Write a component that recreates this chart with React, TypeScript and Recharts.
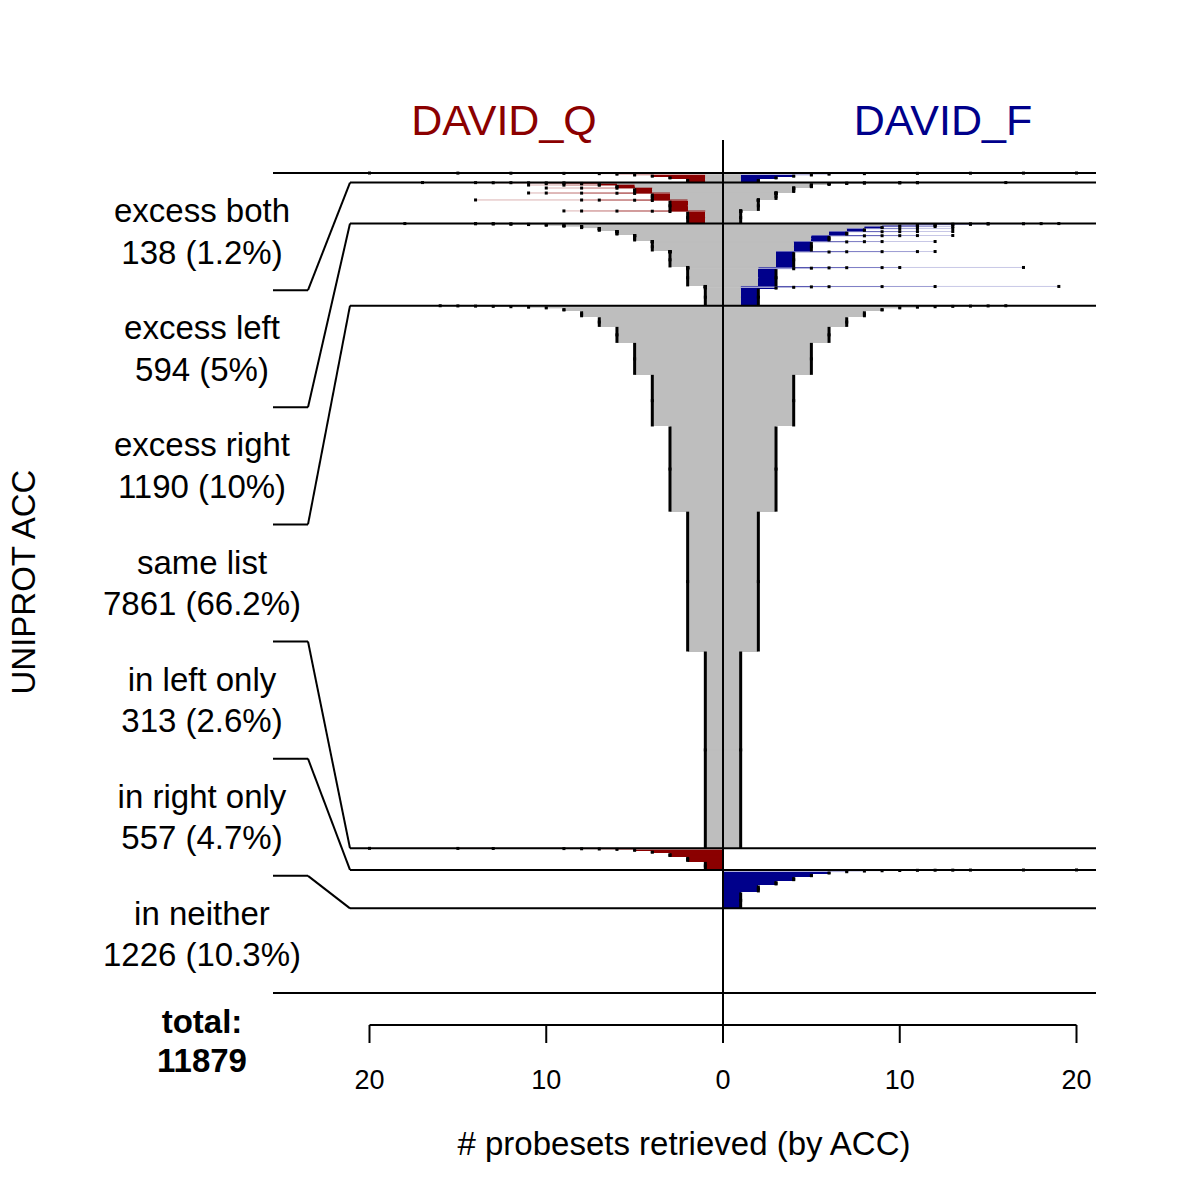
import React from "react";
import { ComposedChart, XAxis, YAxis, ReferenceArea, ReferenceLine, Scatter } from "recharts";

// ---------------- DATA ----------------
const TOTAL = 11879;
const categoryNames = ["excess both", "excess left", "excess right", "same list", "in left only", "in right only", "in neither"];
const categoryCounts = [138, 594, 1190, 7861, 313, 557, 1226];
const leftName = "DAVID_Q";
const rightName = "DAVID_F";
const xTicks = [-20, -10, 0, 10, 20];

// [common, left, right, items]  (top to bottom)
const excessBothBins = [
  [1, 20, 20, 1], [1, 15, 17, 1], [1, 12, 14, 2], [1, 9, 11, 3], [2, 7, 8, 5],
  [1, 6, 6, 10], [1, 5, 5, 14], [1, 4, 4, 20], [1, 3, 3, 30], [1, 2, 2, 52],
];
// [right (= common), left, items]
const excessLeftBins = [
  [16, 17, 1],
  [11, 14, 1], [11, 12, 1],
  [10, 13, 1], [10, 11, 1],
  [8, 10, 1], [8, 9, 3],
  [7, 9, 1], [7, 8, 6],
  [6, 10, 1], [6, 8, 2], [6, 7, 17],
  [5, 11, 1], [5, 9, 1], [5, 7, 3], [5, 6, 38],
  [4, 10, 1], [4, 8, 1], [4, 6, 3], [4, 5, 67],
  [3, 11, 1], [3, 10, 1], [3, 8, 1], [3, 6, 2], [3, 5, 4], [3, 4, 92],
  [2, 14, 1], [2, 8, 1], [2, 7, 1], [2, 5, 3], [2, 4, 5], [2, 3, 148],
  [1, 9, 1], [1, 8, 1], [1, 6, 1], [1, 4, 3], [1, 3, 6], [1, 2, 171],
];
// [left (= common), right, items]
const excessRightBins = [
  [18, 19, 1],
  [14, 18, 1], [14, 15, 1],
  [13, 17, 1], [13, 14, 2],
  [12, 15, 1], [12, 13, 4],
  [11, 14, 1], [11, 12, 6],
  [10, 13, 1], [10, 11, 10],
  [9, 12, 1], [9, 11, 1], [9, 10, 12],
  [8, 13, 1], [8, 12, 1], [8, 11, 1], [8, 9, 26],
  [7, 13, 1], [7, 11, 1], [7, 10, 1], [7, 8, 40],
  [6, 13, 1], [6, 11, 1], [6, 10, 1], [6, 9, 1], [6, 7, 54],
  [5, 13, 1], [5, 11, 1], [5, 10, 1], [5, 9, 1], [5, 8, 2], [5, 6, 81],
  [4, 12, 1], [4, 9, 1], [4, 8, 2], [4, 7, 4], [4, 5, 137],
  [3, 12, 1], [3, 11, 1], [3, 9, 1], [3, 7, 2], [3, 6, 5], [3, 4, 221],
  [2, 17, 1], [2, 10, 1], [2, 9, 1], [2, 7, 2], [2, 6, 3], [2, 5, 6], [2, 4, 10], [2, 3, 251],
  [1, 19, 1], [1, 12, 1], [1, 9, 1], [1, 6, 2], [1, 5, 4], [1, 4, 8], [1, 3, 15], [1, 2, 247],
];
// [probesets on both sides, items]
const sameListBins = [
  [16, 2], [15, 3], [14, 3], [13, 4], [12, 6], [11, 8], [10, 12], [9, 43],
  [8, 87], [7, 139], [6, 232], [5, 463], [4, 748], [3, 1234], [2, 2026], [1, 2851],
];
// [left, items]
const leftOnlyBins = [
  [20, 1], [15, 1], [13, 1], [9, 2], [8, 3], [7, 4], [6, 7], [5, 20], [4, 33], [3, 53], [2, 72], [1, 116],
];
// [right, items]
const rightOnlyBins = [
  [20, 1], [17, 1], [14, 1], [13, 1], [12, 1], [11, 2], [10, 3], [9, 4], [8, 5],
  [7, 14], [6, 24], [5, 48], [4, 58], [3, 62], [2, 101], [1, 231],
];

// ---------------- STYLE / LAYOUT ----------------
const RED = "#8B0000";
const BLUE = "#00008B";
const GRAY = "#BEBEBE";
const FONT = "'Liberation Sans', Arial, Helvetica, sans-serif";
const W = 1200;
const H = 1200;
const PX_LEFT = 273;
const PX_RIGHT = 1096;
const PX_TOP = 140;
const PX_BOTTOM = 1025;
const PX_ZERO = 723;
const PX_PER_UNIT = 17.675;
const PX_Y0 = 173;
const PX_YT = 993;
const ITEM_PX = (PX_YT - PX_Y0) / TOTAL;
const XMIN = (PX_LEFT - PX_ZERO) / PX_PER_UNIT;
const XMAX = (PX_RIGHT - PX_ZERO) / PX_PER_UNIT;
const XBEND = (308 - PX_ZERO) / PX_PER_UNIT;
const YMIN = (PX_TOP - PX_Y0) / ITEM_PX;
const YMAX = (PX_BOTTOM - PX_Y0) / ITEM_PX;
const XAXIS_H = 60;
const MIN_FILL_ITEMS = 1 / ITEM_PX; // bins thinner than one pixel are drawn only as lines

type Bin = { c: number; L: number; R: number; n: number; y0: number; y1: number };

function buildBins(): Bin[] {
  const perCat: { c: number; L: number; R: number; n: number }[][] = [
    excessBothBins.map(([c, L, R, n]) => ({ c, L, R, n })),
    excessLeftBins.map(([R, L, n]) => ({ c: R, L, R, n })),
    excessRightBins.map(([L, R, n]) => ({ c: L, L, R, n })),
    sameListBins.map(([k, n]) => ({ c: k, L: k, R: k, n })),
    leftOnlyBins.map(([L, n]) => ({ c: 0, L, R: 0, n })),
    rightOnlyBins.map(([R, n]) => ({ c: 0, L: 0, R, n })),
    [],
  ];
  const out: Bin[] = [];
  let start = 0;
  perCat.forEach((list, i) => {
    let y = start;
    list.forEach((b) => {
      out.push({ ...b, y0: y, y1: y + b.n });
      y += b.n;
    });
    start += categoryCounts[i];
  });
  return out;
}

const bins = buildBins();
const cumBounds: number[] = [];
{
  let s = 0;
  categoryCounts.forEach((c) => {
    s += c;
    cumBounds.push(s);
  });
}

const dotData: { x: number; y: number }[] = [];
bins.forEach((b) => {
  const ym = (b.y0 + b.y1) / 2;
  if (b.L > 0) dotData.push({ x: -b.L, y: ym });
  if (b.R > 0) dotData.push({ x: b.R, y: ym });
});

const DotShape = (p: any) => <rect x={p.cx - 1.5} y={p.cy - 1.5} width={3} height={3} fill="#000" />;

const Tick = (p: any) => (
  <text x={p.x} y={1089} textAnchor="middle" fontSize={27} fontFamily={FONT} fill="#000">
    {Math.abs(p.payload.value)}
  </text>
);

export default function App() {
  const grayAreas: any[] = [];
  const colorAreas: any[] = [];
  const thinLines: any[] = [];
  const edges: any[] = [];
  bins.forEach((b, i) => {
    const ym = (b.y0 + b.y1) / 2;
    const filled = b.n >= MIN_FILL_ITEMS;
    if (b.c > 0) {
      if (filled)
        grayAreas.push(
          <ReferenceArea key={"g" + i} x1={-b.c} x2={b.c} y1={b.y0} y2={b.y1} fill={GRAY} fillOpacity={1} stroke="none" shapeRendering="crispEdges" ifOverflow="visible" />
        );
      thinLines.push(
        <ReferenceLine key={"tg" + i} segment={[{ x: -b.c, y: ym }, { x: b.c, y: ym }]} stroke={GRAY} strokeWidth={1} ifOverflow="visible" />
      );
    }
    if (b.L > b.c) {
      if (filled)
        colorAreas.push(
          <ReferenceArea key={"r" + i} x1={-b.L} x2={-b.c} y1={b.y0} y2={b.y1} fill={RED} fillOpacity={1} stroke="none" shapeRendering="crispEdges" ifOverflow="visible" />
        );
      thinLines.push(
        <ReferenceLine key={"tr" + i} segment={[{ x: -b.L, y: ym }, { x: -b.c, y: ym }]} stroke={RED} strokeOpacity={0.3} strokeWidth={1} ifOverflow="visible" />
      );
    }
    if (b.R > b.c) {
      if (filled)
        colorAreas.push(
          <ReferenceArea key={"b" + i} x1={b.c} x2={b.R} y1={b.y0} y2={b.y1} fill={BLUE} fillOpacity={1} stroke="none" shapeRendering="crispEdges" ifOverflow="visible" />
        );
      thinLines.push(
        <ReferenceLine key={"tb" + i} segment={[{ x: b.c, y: ym }, { x: b.R, y: ym }]} stroke={BLUE} strokeOpacity={0.22} strokeWidth={1} ifOverflow="visible" />
      );
    }
    if (b.L > 0) {
      edges.push(
        <ReferenceLine key={"el" + i} segment={[{ x: -b.L, y: b.y0 }, { x: -b.L, y: b.y1 }]} stroke="#000" strokeWidth={3} ifOverflow="visible" />
      );
    }
    if (b.R > 0) {
      edges.push(
        <ReferenceLine key={"er" + i} segment={[{ x: b.R, y: b.y0 }, { x: b.R, y: b.y1 }]} stroke="#000" strokeWidth={3} ifOverflow="visible" />
      );
    }
  });

  const frame: any[] = [];
  frame.push(
    <ReferenceLine key="top" segment={[{ x: XMIN, y: 0 }, { x: XMAX, y: 0 }]} stroke="#000" strokeWidth={2} ifOverflow="visible" />
  );
  frame.push(
    <ReferenceLine key="bot" segment={[{ x: XMIN, y: TOTAL }, { x: XMAX, y: TOTAL }]} stroke="#000" strokeWidth={2} ifOverflow="visible" />
  );
  for (let i = 0; i < 6; i++) {
    const slotB = ((i + 1) * TOTAL) / 7;
    const cb = cumBounds[i];
    frame.push(
      <ReferenceLine key={"bk1" + i} segment={[{ x: XMIN, y: slotB }, { x: XBEND, y: slotB }]} stroke="#000" strokeWidth={2} ifOverflow="visible" />,
      <ReferenceLine key={"bk2" + i} segment={[{ x: XBEND, y: slotB }, { x: -XMAX, y: cb }]} stroke="#000" strokeWidth={2} ifOverflow="visible" />,
      <ReferenceLine key={"bk3" + i} segment={[{ x: -XMAX, y: cb }, { x: XMAX, y: cb }]} stroke="#000" strokeWidth={2} ifOverflow="visible" />
    );
  }

  const slotPx = (PX_YT - PX_Y0) / 7;

  return (
    <div style={{ position: "relative", width: W, height: H, background: "#fff" }}>
      <style>{"body{margin:0}"}</style>
      <ComposedChart
        width={W}
        height={H}
        margin={{ top: PX_TOP, right: W - PX_RIGHT, left: PX_LEFT, bottom: H - PX_BOTTOM - XAXIS_H }}
      >
        <XAxis
          type="number"
          dataKey="x"
          domain={[XMIN, XMAX]}
          allowDataOverflow
          ticks={xTicks}
          tick={<Tick />}
          tickSize={18}
          tickLine={{ stroke: "#000", strokeWidth: 2 }}
          axisLine={false}
          height={XAXIS_H}
          interval={0}
        />
        <YAxis type="number" dataKey="y" domain={[YMIN, YMAX]} allowDataOverflow reversed hide />
        {grayAreas}
        {colorAreas}
        {thinLines}
        {edges}
        {frame}
        <ReferenceLine key="axisline" segment={[{ x: -20, y: YMAX }, { x: 20, y: YMAX }]} stroke="#000" strokeWidth={2} ifOverflow="visible" />
        <ReferenceLine key="center" x={0} stroke="#000" strokeWidth={2} ifOverflow="visible" />
        <Scatter data={dotData} shape={<DotShape />} isAnimationActive={false} />
      </ComposedChart>
      <svg width={W} height={H} style={{ position: "absolute", left: 0, top: 0, pointerEvents: "none" }}>
        <g fontFamily={FONT} textAnchor="middle">
          <text x={504} y={135} fontSize={43} fill={RED}>{leftName}</text>
          <text x={943} y={135} fontSize={43} fill={BLUE}>{rightName}</text>
          {categoryNames.map((name, i) => {
            const cy = PX_Y0 + (i + 0.5) * slotPx;
            const pct = Number(((categoryCounts[i] / TOTAL) * 100).toFixed(1));
            return (
              <g key={name}>
                <text x={202} y={cy - 9.5} fontSize={33} fill="#000">{name}</text>
                <text x={202} y={cy + 32} fontSize={33} fill="#000">{`${categoryCounts[i]} (${pct}%)`}</text>
              </g>
            );
          })}
          <text x={202} y={1033} fontSize={33} fontWeight="bold" fill="#000">total:</text>
          <text x={202} y={1072} fontSize={33} fontWeight="bold" fill="#000">{TOTAL}</text>
          <text x={684} y={1155} fontSize={33} fill="#000"># probesets retrieved (by ACC)</text>
          <text transform="translate(35,582) rotate(-90)" fontSize={33} fill="#000">UNIPROT ACC</text>
        </g>
      </svg>
    </div>
  );
}
